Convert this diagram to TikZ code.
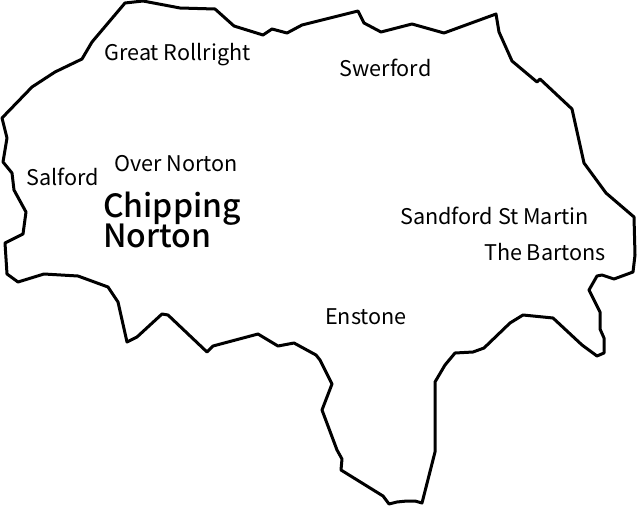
\documentclass[tikz,border=0pt]{standalone}
\usepackage{fontspec}
\setmainfont{Noto Sans CJK SC}
\newfontfamily\townfont{Noto Sans CJK SC Medium}
\tikzset{
  place/.style={inner sep=0pt, anchor=base, font=\fontsize{21.6}{25}\selectfont},
  town/.style={inner sep=0pt, anchor=base west, font=\fontsize{32}{32}\townfont},
  boundary/.style={line width=3pt, line join=round, black}
}
\begin{document}
\begin{tikzpicture}[x=1pt,y=-1pt]
\useasboundingbox (0,0) rectangle (637,506);
% Outline
\draw[boundary] (2,118) -- (32,87) -- (55,72) -- (82,59) -- (92,42) -- (125,3) -- (143,1)
  -- (180,8) -- (215,9) -- (234,26) -- (263,35) -- (272,29) -- (287,33) -- (302,25)
  -- (358,11) -- (364,23) -- (381,32) -- (412,24) -- (444,33) -- (496,14) -- (499,32)
  -- (512,61) -- (537,82) -- (540,79) -- (572,109) -- (584,163) -- (606,193) -- (634,217)
  -- (635,255) -- (633,272) -- (614,279) -- (602,275) -- (597,276) -- (589,290)
  -- (600,312) -- (600,329) -- (604,338) -- (604,353) -- (597,356) -- (582,345)
  -- (553,318) -- (523,315) -- (510,323) -- (484,348) -- (473,352) -- (455,353)
  -- (445,365) -- (435,382) -- (435,452) -- (422,503) -- (415,501) -- (407,501) -- (397,502) -- (389,504)
  -- (383,496) -- (341,470) -- (342,459) -- (337,450) -- (322,410) -- (332,384)
  -- (320,360) -- (316,355) -- (294,343) -- (278,346) -- (258,334) -- (213,346)
  -- (207,352) -- (168,315) -- (162,314) -- (137,337) -- (127,342) -- (118,302)
  -- (108,287) -- (78,276) -- (44,274) -- (18,282) -- (7,274) -- (5,243) -- (23,234)
  -- (26,212) -- (14,190) -- (12,173) -- (3,162) -- (7,138) -- cycle;
% Labels
\node[place] (rollright) at (177.5,60.5) {Great Rollright};
\node[place] (swerford) at (385.5,76.5) {Swerford};
\node[place] (overnorton) at (176,171.5) {Over Norton};
\node[place] (salford) at (62.5,185.5) {Salford};
\node[place] (sandford) at (494.5,224.5) {Sandford St Martin};
\node[place] (bartons) at (545,260.5) {The Bartons};
\node[place] (enstone) at (366,324.5) {Enstone};
\node[town] (chipping) at (103,217) {Chipping};
\node[town] (norton) at (103,247.5) {Norton};
\end{tikzpicture}
\end{document}
